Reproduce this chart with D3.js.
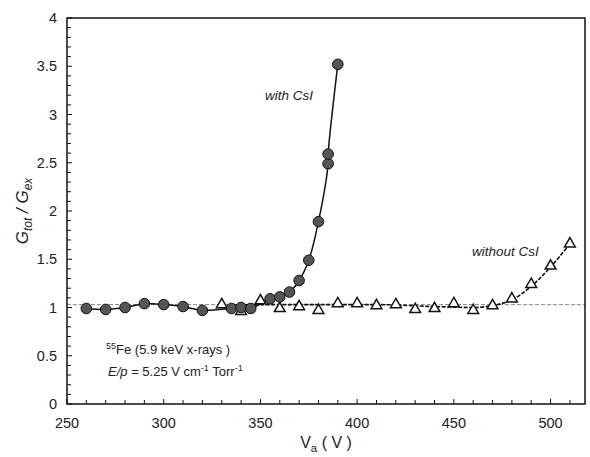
<!DOCTYPE html>
<html><head><meta charset="utf-8">
<script src="https://cdn.jsdelivr.net/npm/d3@7"></script>
<style>body{margin:0;background:#fff}svg{display:block}text{font-family:"Liberation Sans",Arial,sans-serif;fill:#222}</style>
</head><body><svg id="c" width="590" height="457"></svg>
<script>
// data
const csiV = [260,270,280,290,300,310,320,335,340,345,355,360,365,370,375,380,385,385,390];
const csiG = [0.99,0.98,1.00,1.04,1.03,1.01,0.97,0.99,1.00,0.99,1.09,1.11,1.16,1.28,1.49,1.89,2.49,2.59,3.52];
const noV = [330,340,350,360,370,380,390,400,410,420,430,440,450,460,470,480,490,500,510];
const noG = [1.03,0.96,1.07,0.99,1.01,0.97,1.04,1.04,1.02,1.03,0.98,0.99,1.04,0.97,1.02,1.09,1.24,1.43,1.66];
// trend curve through "without CsI"
const fitV = [330,350,380,410,440,460,470,480,490,500,510];
const fitG = [1.02,1.03,1.03,1.03,1.01,1.00,1.02,1.08,1.22,1.42,1.66];
const refG = 1.03;
const xTicks = [250,300,350,400,450,500];
const yTicks = [0,0.5,1,1.5,2,2.5,3,3.5,4];

const svg = d3.select("#c");
const L=67,R=585,T=18,B=404;
const x = d3.scaleLinear().domain([250,517.8]).range([L,R]);
const y = d3.scaleLinear().domain([0,4]).range([B,T]);

// minor ticks
const g = svg.append("g");
d3.range(0,4.01,0.1).forEach(v=>{
  const major = Math.abs(v*2-Math.round(v*2))<1e-6;
  g.append("line").attr("x1",L).attr("x2",L+(major?5:4)).attr("y1",y(v)).attr("y2",y(v)).attr("stroke","#111").attr("stroke-width",1);
});
d3.range(250,518,10).forEach(v=>{
  const major = v%50===0;
  g.append("line").attr("x1",x(v)).attr("x2",x(v)).attr("y1",B).attr("y2",B-(major?5:4)).attr("stroke","#111").attr("stroke-width",1);
});
// tick labels
yTicks.forEach(v=>{
  svg.append("text").attr("x",L-10).attr("y",y(v)+5).attr("text-anchor","end").attr("font-size",14.5).attr("fill","#333").text(v);
});
xTicks.forEach(v=>{
  svg.append("text").attr("x",x(v)).attr("y",B+24).attr("text-anchor","middle").attr("font-size",14.5).attr("fill","#333").text(v);
});

// reference dashed line
svg.append("line").attr("x1",L).attr("x2",R).attr("y1",y(refG)).attr("y2",y(refG))
  .attr("stroke","#888").attr("stroke-width",1).attr("stroke-dasharray","4,2");

// without CsI trend
svg.append("path").datum(fitV.map((v,i)=>[v,fitG[i]]))
  .attr("d",d3.line().x(d=>x(d[0])).y(d=>y(d[1])).curve(d3.curveMonotoneX))
  .attr("fill","none").attr("stroke","#111").attr("stroke-width",1.6).attr("stroke-dasharray","4,1.5");

// with CsI line
svg.append("path").datum(csiV.map((v,i)=>[v,csiG[i]]))
  .attr("d",d3.line().x(d=>x(d[0])).y(d=>y(d[1])).curve(d3.curveCatmullRom.alpha(0.5)))
  .attr("fill","none").attr("stroke","#111").attr("stroke-width",1.5);

// triangles
const tri = d3.symbol().type(d3.symbolTriangle).size(50);
svg.selectAll(".tri").data(noV.map((v,i)=>[v,noG[i]])).join("path")
  .attr("transform",d=>`translate(${x(d[0])},${y(d[1])})`).attr("d",tri)
  .attr("fill","#fff").attr("stroke","#111").attr("stroke-width",1.5);

// circles
svg.selectAll(".cir").data(csiV.map((v,i)=>[v,csiG[i]])).join("circle")
  .attr("cx",d=>x(d[0])).attr("cy",d=>y(d[1])).attr("r",5.3)
  .attr("fill","#555").attr("stroke","#111").attr("stroke-width",1);

// frame
svg.append("rect").attr("x",L).attr("y",T).attr("width",R-L).attr("height",B-T)
  .attr("fill","none").attr("stroke","#111").attr("stroke-width",1.5);

// annotations
svg.append("text").attr("x",265).attr("y",100).attr("font-size",13.5).attr("font-style","italic").text("with CsI");
svg.append("text").attr("x",472).attr("y",256).attr("font-size",13.5).attr("font-style","italic").text("without CsI");

const t1 = svg.append("text").attr("x",106).attr("y",354).attr("font-size",13);
t1.append("tspan").attr("font-size",9).attr("dy",-5).text("55");
t1.append("tspan").attr("dy",5).text("Fe (5.9 keV x-rays )");
const t2 = svg.append("text").attr("x",108).attr("y",376).attr("font-size",13);
t2.append("tspan").attr("font-style","italic").text("E/p");
t2.append("tspan").text(" = 5.25 V cm");
t2.append("tspan").attr("font-size",9).attr("dy",-5).text("-1");
t2.append("tspan").attr("dy",5).text(" Torr");
t2.append("tspan").attr("font-size",9).attr("dy",-5).text("-1");

// axis titles
const xl = svg.append("text").attr("x",(L+R)/2).attr("y",448).attr("text-anchor","middle").attr("font-size",16);
xl.append("tspan").text("V");
xl.append("tspan").attr("font-size",11.5).attr("dy",4).text("a");
xl.append("tspan").attr("dy",-4).text(" ( V )");

const yl = svg.append("text").attr("transform",`translate(28,${(T+B)/2}) rotate(-90)`).attr("text-anchor","middle").attr("font-size",17).attr("font-style","italic");
yl.append("tspan").text("G");
yl.append("tspan").attr("font-size",12).attr("dy",4).text("tot");
yl.append("tspan").attr("dy",-4).text(" / G");
yl.append("tspan").attr("font-size",12).attr("dy",4).text("ex");
</script></body></html>
